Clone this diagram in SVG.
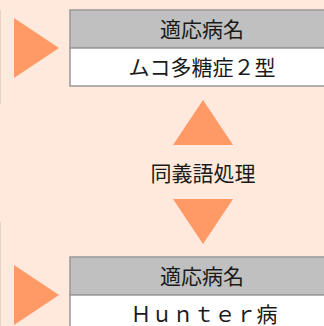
<svg xmlns="http://www.w3.org/2000/svg" width="324" height="326" viewBox="0 0 324 326">
<style>
.bg{fill:#FEE9DC}
.tri{fill:#FF9966}
.hd{fill:#C0C0C0;stroke:#999;stroke-width:1.5}
.cell{fill:#FFFFFF;stroke:#999;stroke-width:1.5}
.t{font-family:"Noto Sans CJK JP","Noto Sans CJK SC",sans-serif;font-size:21px;fill:#1a1a1a;text-anchor:middle}
.edge{stroke:#E6D3C8;stroke-width:1}
</style>
<rect class="bg" x="0" y="0" width="324" height="326"/>
<line class="edge" x1="0.5" y1="10" x2="0.5" y2="104"/>
<line class="edge" x1="0.5" y1="222" x2="0.5" y2="326"/>
<g id="marker-top"><polygon class="tri" points="14,18 59,48 14,78"/></g>
<g id="node-top">
<rect class="hd" x="70" y="10" width="270" height="38"/>
<rect class="cell" x="70" y="48" width="270" height="38"/>
<text class="t" x="202" y="36.5">適応病名</text>
<text class="t" x="202" y="74.5">ムコ多糖症２型</text>
</g>
<g id="connectors">
<polygon class="tri" points="203,100 233,145 173,145"/>
<polygon class="tri" points="173,199 233,199 203,244"/>
</g>
<g id="label-synonym"><text class="t" x="203" y="181">同義語処理</text></g>
<g id="marker-bottom"><polygon class="tri" points="14,265 59,295 14,325"/></g>
<g id="node-bottom">
<rect class="hd" x="70" y="257" width="270" height="38"/>
<rect class="cell" x="70" y="295" width="270" height="38"/>
<text class="t" x="202" y="283.5">適応病名</text>
<text class="t" x="204" y="321.5">Ｈｕｎｔｅｒ病</text>
</g>
</svg>
